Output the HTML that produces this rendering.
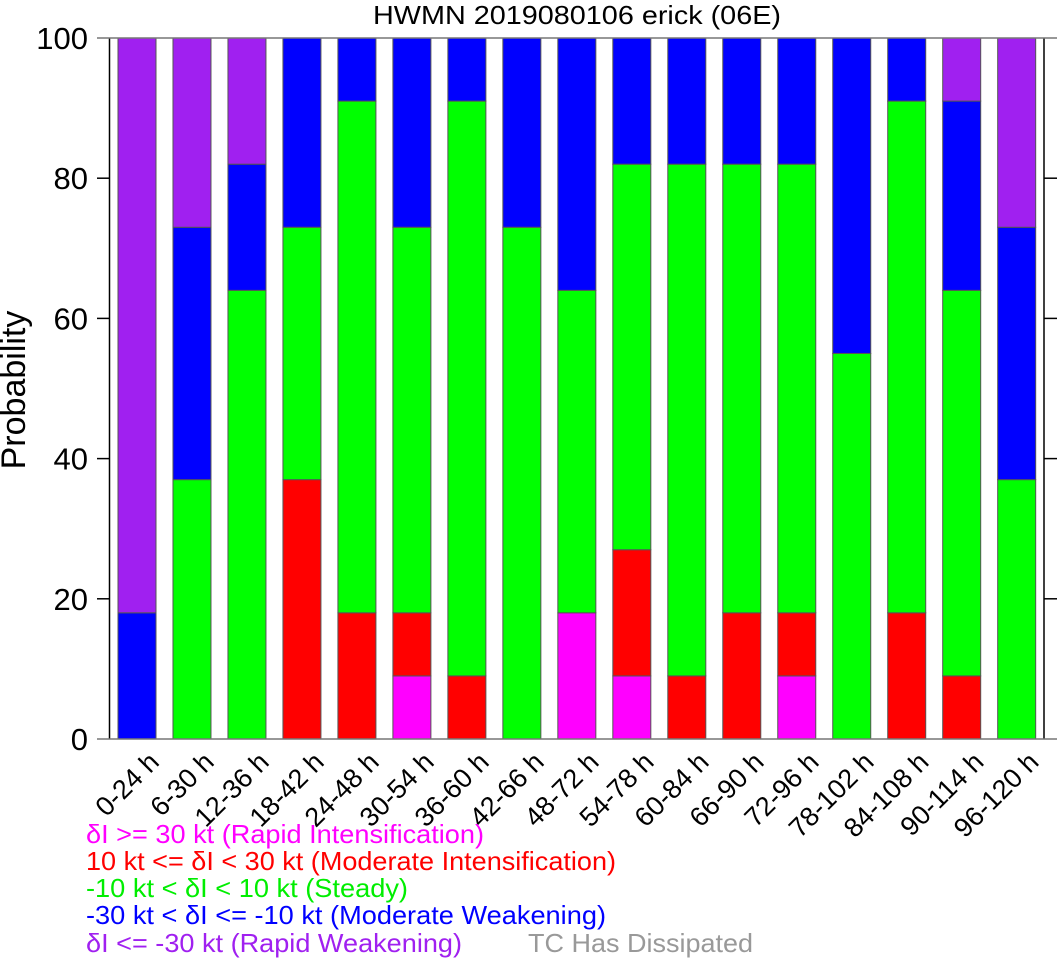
<!DOCTYPE html>
<html><head><meta charset="utf-8"><style>
body{margin:0;background:#fff;}
svg text{font-family:"Liberation Sans",sans-serif;}
</style></head><body>
<svg id="c" width="1057" height="960" xmlns="http://www.w3.org/2000/svg">
<text x="577" y="24" font-size="26" text-anchor="middle" textLength="408" lengthAdjust="spacingAndGlyphs">HWMN 2019080106 erick (06E)</text>
<text transform="translate(25,390) rotate(-90)" font-size="34" text-anchor="middle">Probability</text>
<g id="bars"></g>
<g id="axes"></g>
<g font-size="26">
<text x="86" y="843" fill="#ff00ff" textLength="398" lengthAdjust="spacingAndGlyphs">δI &gt;= 30 kt (Rapid Intensification)</text>
<text x="86" y="870" fill="#ff0000" textLength="530" lengthAdjust="spacingAndGlyphs">10 kt &lt;= δI &lt; 30 kt (Moderate Intensification)</text>
<text x="86" y="897" fill="#00ee00" textLength="322" lengthAdjust="spacingAndGlyphs">-10 kt &lt; δI &lt; 10 kt (Steady)</text>
<text x="86" y="924" fill="#0000ff" textLength="520" lengthAdjust="spacingAndGlyphs">-30 kt &lt; δI &lt;= -10 kt (Moderate Weakening)</text>
<text x="86" y="952" fill="#a020f0" textLength="376" lengthAdjust="spacingAndGlyphs">δI &lt;= -30 kt (Rapid Weakening)</text>
<text x="528" y="952" fill="#999" textLength="225" lengthAdjust="spacingAndGlyphs">TC Has Dissipated</text>
</g>
</svg>
<script>
const categories=["0-24 h","6-30 h","12-36 h","18-42 h","24-48 h","30-54 h","36-60 h","42-66 h","48-72 h","54-78 h","60-84 h","66-90 h","72-96 h","78-102 h","84-108 h","90-114 h","96-120 h"];
const rapidInt=[0,0,0,0,0,9,0,0,18,9,0,0,9,0,0,0,0];
const modInt=[0,0,0,37,18,9,9,0,0,18,9,18,9,0,18,9,0];
const steady=[0,37,64,36,73,55,82,73,46,55,73,64,64,55,73,55,37];
const modWeak=[18,36,18,27,9,27,9,27,36,18,18,18,18,45,9,27,36];
const rapidWeak=[82,27,18,0,0,0,0,0,0,0,0,0,0,0,0,9,27];
const yTicks=[0,20,40,60,80,100];
const seriesNames=["rapid-intensification","moderate-intensification","steady","moderate-weakening","rapid-weakening"];
const colors=["#ff00ff","#ff0000","#00ff00","#0000ff","#a020f0"];
const NS="http://www.w3.org/2000/svg";
const yS=v=>739-v*7.01;
const xS=i=>137+i*54.98;
const bw=38;
function mk(t,a,p){const e=document.createElementNS(NS,t);for(const k in a)e.setAttribute(k,a[k]);p.appendChild(e);return e;}
const bars=document.getElementById('bars'),axes=document.getElementById('axes');
const series=[rapidInt,modInt,steady,modWeak,rapidWeak];
categories.forEach((c,i)=>{
  let base=0;
  series.forEach((s,k)=>{
    const v=s[i]; if(v<=0)return;
    const r=mk('rect',{x:xS(i)-bw/2,y:yS(base+v),width:bw,height:yS(base)-yS(base+v),fill:colors[k],stroke:'#555','stroke-width':1},bars);
    
    
    base+=v;
  });
  const t=mk('text',{transform:`translate(${xS(i)+10},${750}) rotate(-45)`,'font-size':27,'text-anchor':'end','dominant-baseline':'hanging'},axes);
  t.textContent=c;
  
  
});
mk('line',{x1:109.5,y1:38,x2:109.5,y2:739,stroke:'#000','stroke-width':1.5},axes);
mk('line',{x1:1044,y1:38,x2:1044,y2:739,stroke:'#000','stroke-width':1.5},axes);
yTicks.forEach(v=>{
  const w=(v===0||v===100);
  mk('line',{x1:97,y1:yS(v),x2:w?1057:109.5,y2:yS(v),stroke:w?'#777':'#000','stroke-width':1.5},axes);
  if(!w)mk('line',{x1:1044,y1:yS(v),x2:1057,y2:yS(v),stroke:'#000','stroke-width':1.5},axes);
  const t=mk('text',{x:88,y:yS(v)+11,'font-size':31,'text-anchor':'end'},axes);
  t.textContent=v;
  
  
});
</script>
</body></html>
